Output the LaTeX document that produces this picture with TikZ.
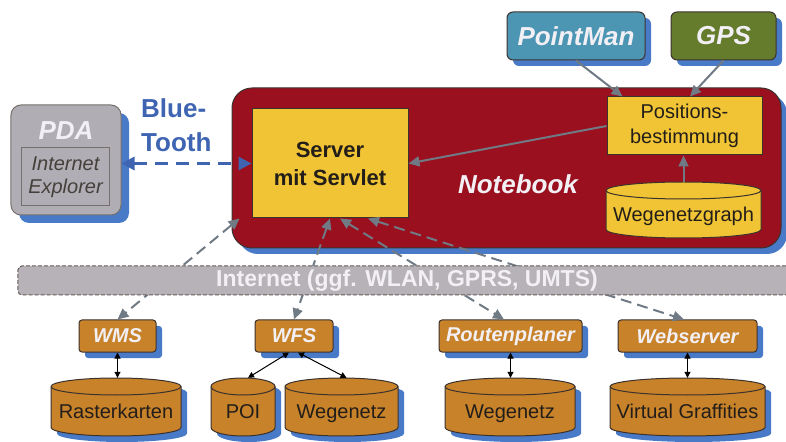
\documentclass[tikz,border=0pt]{standalone}
\usepackage{fontspec}
\setmainfont{Liberation Sans}
\usetikzlibrary{arrows.meta,shadows}

\definecolor{nbred}{RGB}{155,16,30}
\definecolor{srvyellow}{RGB}{240,196,52}
\definecolor{svcbrown}{RGB}{200,130,42}
\definecolor{pdagray}{RGB}{176,173,180}
\definecolor{netgray}{RGB}{182,178,184}
\definecolor{shblue}{RGB}{72,122,200}
\definecolor{ptteal}{RGB}{76,150,180}
\definecolor{gpsgreen}{RGB}{100,124,44}
\definecolor{btblue}{RGB}{62,100,178}
\definecolor{arrgray}{RGB}{112,122,132}
\definecolor{edge}{RGB}{60,50,45}
\definecolor{lighttext}{RGB}{242,240,244}
\definecolor{darktext}{RGB}{35,30,25}

\tikzset{
  shadowed/.style={drop shadow={shadow xshift=#1, shadow yshift=-#1, fill=shblue, opacity=1}},
  shadowed/.default=6bp,
  box/.style={draw=edge, line width=1bp, inner sep=0pt, align=center},
  title/.style={font=\fontsize{26bp}{30bp}\selectfont\bfseries\itshape, text=lighttext, inner sep=0pt},
  svc/.style={box, shadowed, fill=svcbrown, rounded corners=3bp, minimum height=32bp,
    font=\fontsize{20bp}{24bp}\selectfont\bfseries\itshape, text=lighttext},
  flow/.style={draw=arrgray, line width=2bp, -{Triangle[length=11bp,width=10bp]}},
  link/.style={draw=arrgray, line width=2bp, dash pattern=on 11bp off 6bp,
    {Triangle[length=11bp,width=10bp]}-{Triangle[length=11bp,width=10bp]}},
  dblink/.style={draw=black, line width=1bp,
    {Triangle[length=6bp,width=6bp]}-{Triangle[length=6bp,width=6bp]}},
  btlink/.style={draw=btblue, line width=3bp, dash pattern=on 13bp off 8bp,
    {Triangle[length=13bp,width=13bp]}-{Triangle[length=13bp,width=13bp]}},
}

% database cylinder: name, centre x, centre y, width, height, fill, shadow options, text
\newcommand\dbcyl[8]{%
  \pgfmathsetmacro\cylw{#4/2}%
  \pgfmathsetmacro\cylh{#5/2}%
  \def\cylr{8.5}%
  \path[#7, shift={(#2+6,#3+6)}] (-\cylw,-\cylh+\cylr) -- (-\cylw,\cylh-\cylr)
    arc[start angle=180,end angle=0,x radius=\cylw,y radius=\cylr]
    -- (\cylw,-\cylh+\cylr)
    arc[start angle=0,end angle=-180,x radius=\cylw,y radius=\cylr] -- cycle;
  \filldraw[fill=#6, draw=edge, line width=1bp, shift={(#2,#3)}]
    (-\cylw,-\cylh+\cylr) -- (-\cylw,\cylh-\cylr)
    arc[start angle=180,end angle=0,x radius=\cylw,y radius=\cylr]
    -- (\cylw,-\cylh+\cylr)
    arc[start angle=0,end angle=-180,x radius=\cylw,y radius=\cylr] -- cycle;
  \draw[edge, line width=1bp, shift={(#2,#3)}] (-\cylw,-\cylh+\cylr)
    arc[start angle=180,end angle=0,x radius=\cylw,y radius=\cylr];
  \node[inner sep=0pt, minimum width=#4bp, minimum height=#5bp, text height=27bp,
    text depth=4bp, font=\fontsize{20bp}{24bp}\selectfont, text=darktext] (#1) at (#2,#3) {#8};
}

\begin{document}
\begin{tikzpicture}[x=1bp,y=-1bp]
\useasboundingbox (0,0) rectangle (786,442);
\clip (0,0) rectangle (786,442);

% PDA
\node[box, shadowed=8bp, fill=pdagray, draw=edge!70, rounded corners=10bp,
  minimum width=110bp, minimum height=110bp] (pda) at (66,160) {};
\node[title] (pdal) at (66,131) {PDA};
\node[box, fill=pdagray, draw=edge!70, minimum width=87bp, minimum height=58bp,
  font=\fontsize{20bp}{23bp}\selectfont\itshape, text=darktext!85] (ie) at (65.5,177) {Internet\\Explorer};

% Notebook
\node[box, shadowed=6bp, fill=nbred, rounded corners=20bp,
  minimum width=549bp, minimum height=160bp] (nb) at (506.5,168) {};
\node[title] (nbl) at (518,184) {Notebook};

\node[box, fill=srvyellow, minimum width=156bp, minimum height=109bp,
  font=\fontsize{22bp}{28bp}\selectfont\bfseries, text=darktext] (srv) at (330,163.5) {Server\\mit Servlet};
\node[box, fill=srvyellow, minimum width=155bp, minimum height=58bp,
  font=\fontsize{20bp}{25bp}\selectfont, text=darktext] (pos) at (684.5,126) {Positions-\\bestimmung};
\dbcyl{wng}{683.5}{210}{155}{56}{srvyellow}{fill=none}{Wegenetzgraph}

% Bluetooth link
\node[anchor=west, align=left, inner sep=0pt, font=\fontsize{26bp}{34bp}\selectfont\bfseries,
  text=btblue] (bt) at (141,125) {Blue-\\Tooth};
\draw[btlink] (pda.east |- srv.west) -- (srv.west);

% Position sources
\node[box, shadowed, fill=ptteal, rounded corners=6bp, minimum width=138bp, minimum height=48bp,
  font=\fontsize{26bp}{30bp}\selectfont\bfseries\itshape, text=lighttext] (pm) at (576,36) {PointMan};
\node[box, shadowed, fill=gpsgreen, rounded corners=6bp, minimum width=105bp, minimum height=48bp,
  font=\fontsize{26bp}{30bp}\selectfont\bfseries\itshape, text=lighttext] (gps) at (723.5,36) {GPS};

\draw[flow] (pm.south) -- ([xshift=16bp]pos.north west);
\draw[flow] (gps.south) -- ([xshift=5.5bp]pos.north);
\draw[flow] (pos.west) -- (srv.east);
\draw[flow] (wng.north) -- (wng.north |- pos.south);

% Services
\node[svc, minimum width=77bp] (wms) at (117.5,336) {WMS};
\node[svc, minimum width=78bp] (wfs) at (294,336) {WFS};
\node[svc, minimum width=143bp] (rp) at (510.5,336) {Routenplaner};
\node[svc, minimum width=139bp] (ws) at (687.5,336) {Webserver};

% Internet links (behind the network bar)
\draw[link] ([xshift=-12bp]srv.south west) -- (wms.north);
\draw[link] (srv.south) -- (wfs.north);
\draw[link] ([xshift=10bp]srv.south) -- ([xshift=-6.5bp]rp.north);
\draw[link] ([xshift=38bp]srv.south) -- ([xshift=-3.5bp]ws.north);

\node[draw=edge!80, dash pattern=on 4bp off 2bp, line width=1bp, fill=netgray, rounded corners=4bp,
  minimum width=778bp, minimum height=29bp, inner sep=0pt,
  font=\fontsize{23bp}{26bp}\selectfont\bfseries, text=lighttext] (net) at (407,280.5)
  {Internet (ggf. WLAN, GPRS, UMTS)};

% Databases
\dbcyl{rk}{116}{407}{130}{58}{svcbrown}{fill=shblue}{Rasterkarten}
\dbcyl{poi}{243}{407}{64}{58}{svcbrown}{fill=shblue}{POI}
\dbcyl{wn1}{341.5}{407}{113}{58}{svcbrown}{fill=shblue}{Wegenetz}
\dbcyl{wn2}{510}{407}{130}{58}{svcbrown}{fill=shblue}{Wegenetz}
\dbcyl{vg}{687.5}{407}{155}{58}{svcbrown}{fill=shblue}{Virtual Graffities}

\draw[dblink] (wms.south) -- (wms.south |- rk.north);
\draw[dblink] ([xshift=-5bp]wfs.south) -- ([xshift=5bp]poi.north);
\draw[dblink] ([xshift=4bp]wfs.south) -- ([xshift=5bp]wn1.north);
\draw[dblink] (rp.south) -- (rp.south |- wn2.north);
\draw[dblink] (ws.south) -- (ws.south |- vg.north);
\end{tikzpicture}
\end{document}
